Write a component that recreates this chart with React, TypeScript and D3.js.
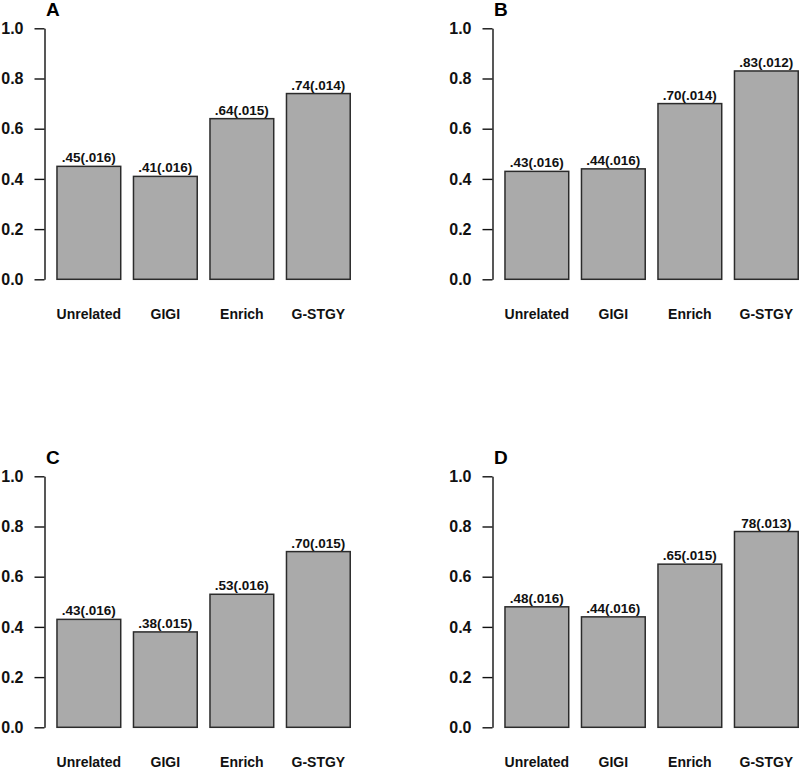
import { useRef, useEffect } from "react";
import * as d3 from "d3";

const categories = ["Unrelated", "GIGI", "Enrich", "G-STGY"];
const yTicks = [0, 0.2, 0.4, 0.6, 0.8, 1.0];

const valuesA = [0.45, 0.41, 0.64, 0.74];
const valuesB = [0.43, 0.44, 0.70, 0.83];
const valuesC = [0.43, 0.38, 0.53, 0.70];
const valuesD = [0.48, 0.44, 0.65, 0.78];

// text printed over the bars, as it reads in the figure
const labelsA = [".45(.016)", ".41(.016)", ".64(.015)", ".74(.014)"];
const labelsB = [".43(.016)", ".44(.016)", ".70(.014)", ".83(.012)"];
const labelsC = [".43(.016)", ".38(.015)", ".53(.016)", ".70(.015)"];
const labelsD = [".48(.016)", ".44(.016)", ".65(.015)", "78(.013)"];

const FONT = "'Liberation Sans', Arial, Helvetica, sans-serif";

type PanelProps = {
    letter: string,
    values: number[],
    labels: string[],
    left: number,
    top: number
}

function BarPanel({ letter, values, labels, left, top }: PanelProps) {
    const gRef = useRef<SVGGElement>(null);

    useEffect(() => {
        const g = d3.select(gRef.current);
        const axisX = 44.5;

        const x = d3.scaleBand()
            .domain(categories)
            .range([50.6, 50.6 + 4 * 76.5])
            .paddingInner(1 / 6)
            .paddingOuter(1 / 12);

        const y = d3.scaleLinear()
            .domain([0, 1])
            .range([279.3, 28.3]);

        //panel letter
        g.append("text")
            .attr("x", axisX + 1.5)
            .attr("y", 16)
            .attr("font-family", FONT)
            .attr("font-weight", "bold")
            .attr("font-size", 19)
            .text(letter);

        //y axis
        const yAxis = g.append("g")
            .attr("transform", `translate(${axisX},0)`)
            .call(d3.axisLeft(y).tickValues(yTicks).tickFormat(d3.format(".1f")).tickSize(10).tickPadding(11).tickSizeOuter(0));
        yAxis.select(".domain").attr("stroke", "#111").attr("stroke-width", 1.4);
        yAxis.selectAll(".tick line").attr("stroke", "#111").attr("stroke-width", 1.4);
        yAxis.selectAll(".tick text")
            .attr("font-family", FONT)
            .attr("font-weight", "bold")
            .attr("font-size", 16)
            .attr("fill", "#111");

        // Bars
        g.selectAll("rect.bar")
            .data(values)
            .join("rect")
            .attr("class", "bar")
            .attr("x", (_, i) => x(categories[i])!)
            .attr("y", d => y(d))
            .attr("width", x.bandwidth())
            .attr("height", d => y(0) - y(d))
            .attr("fill", "#aaaaaa")
            .attr("stroke", "#2b2b2b")
            .attr("stroke-width", 1.5);

        // value labels
        g.selectAll("text.val")
            .data(values)
            .join("text")
            .attr("class", "val")
            .attr("x", (_, i) => x(categories[i])! + x.bandwidth() / 2)
            .attr("y", d => y(d) - 4)
            .attr("text-anchor", "middle")
            .attr("font-family", FONT)
            .attr("font-weight", "bold")
            .attr("font-size", 13.5)
            .attr("fill", "#111")
            .text((_, i) => labels[i]);

        // category names
        g.selectAll("text.cat")
            .data(categories)
            .join("text")
            .attr("class", "cat")
            .attr("x", d => x(d)! + x.bandwidth() / 2)
            .attr("y", 318.5)
            .attr("text-anchor", "middle")
            .attr("font-family", FONT)
            .attr("font-weight", "bold")
            .attr("font-size", 14)
            .attr("fill", "#111")
            .text(d => d);

        return () => {
            //clear chart
            g.selectAll("*").remove();
        }
    }, [letter, values, labels]);

    return <g ref={gRef} transform={`translate(${left},${top})`}></g>;
}

export default function App() {
    return (
        <svg width={800} height={768} style={{ position: "absolute", left: 0, top: 0, background: "#fff" }}>
            <rect width={800} height={768} fill="#fff" />
            <BarPanel letter="A" values={valuesA} labels={labelsA} left={0} top={0} />
            <BarPanel letter="B" values={valuesB} labels={labelsB} left={448} top={0} />
            <BarPanel letter="C" values={valuesC} labels={labelsC} left={0} top={448} />
            <BarPanel letter="D" values={valuesD} labels={labelsD} left={448} top={448} />
        </svg>
    );
}
